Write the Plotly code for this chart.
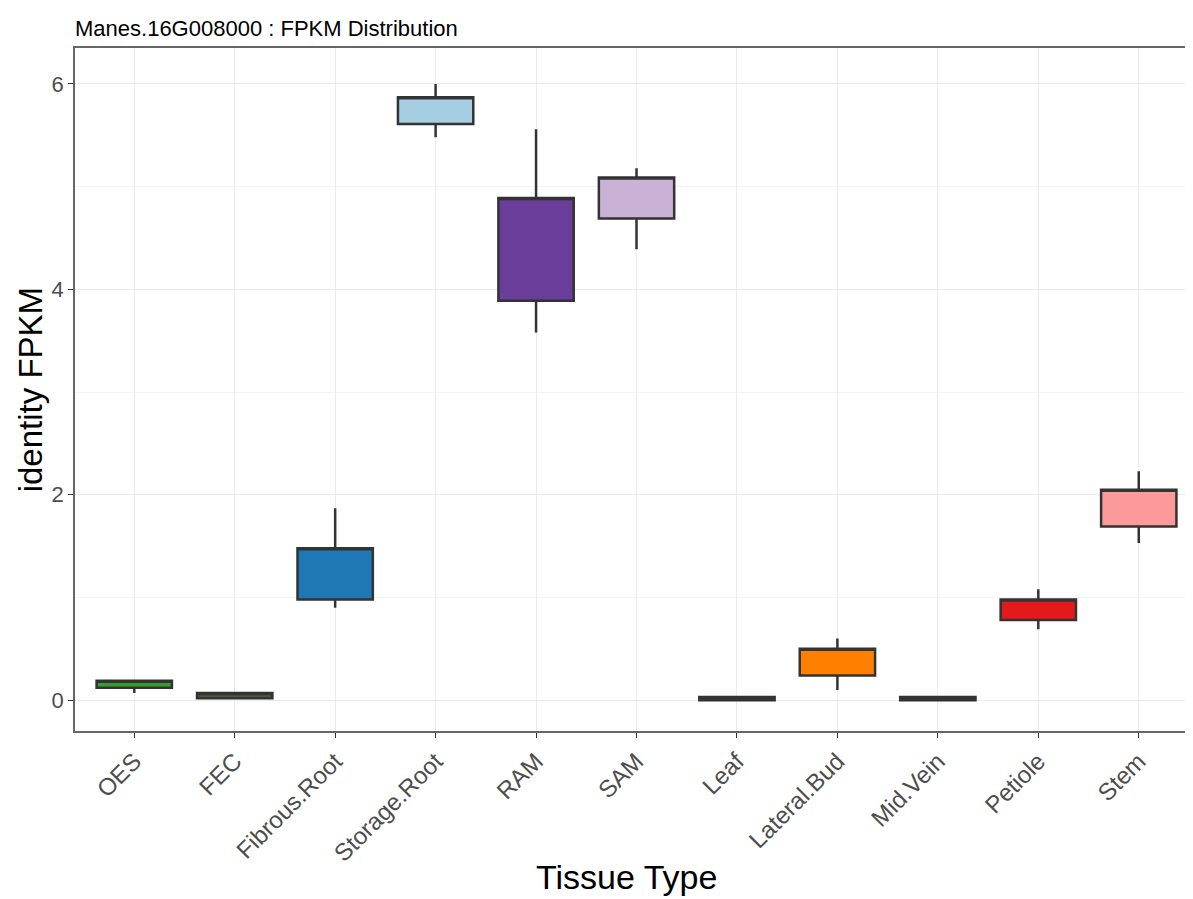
import plotly.graph_objects as go

tissues = ["OES", "FEC", "Fibrous.Root", "Storage.Root", "RAM", "SAM",
           "Leaf", "Lateral.Bud", "Mid.Vein", "Petiole", "Stem"]
lower = [0.07, 0.01, 0.90, 5.48, 3.58, 4.39, 0.00, 0.10, 0.00, 0.69, 1.53]
q1 =    [0.12, 0.02, 0.98, 5.61, 3.89, 4.69, 0.00, 0.24, 0.00, 0.78, 1.69]
median =[0.19, 0.07, 1.48, 5.87, 4.89, 5.09, 0.03, 0.50, 0.03, 0.98, 2.05]
q3 =    [0.19, 0.07, 1.48, 5.87, 4.89, 5.09, 0.03, 0.50, 0.03, 0.98, 2.05]
upper = [0.20, 0.08, 1.87, 6.00, 5.56, 5.18, 0.04, 0.60, 0.04, 1.08, 2.23]
colors = ["#33a02c", "#4d5a3f", "#1f78b4", "#a6cee3", "#6a3d9a", "#cab2d6",
          "#fdbf6f", "#ff7f00", "#b15928", "#e31a1c", "#fb9a99"]

W, H = 1185, 891  # page body has an 8px margin

fig = go.Figure()
for i, t in enumerate(tissues):
    fig.add_trace(go.Box(
        x=[t], q1=[q1[i]], median=[median[i]], q3=[q3[i]],
        lowerfence=[lower[i]], upperfence=[upper[i]],
        fillcolor=colors[i], line=dict(color="#333333", width=2.5),
        whiskerwidth=0, width=0.75, boxpoints=False, showlegend=False,
        hoverinfo="skip",
    ))

fig.update_layout(
    width=W, height=H,
    margin=dict(l=67, r=0, t=40, b=168, autoexpand=False),
    paper_bgcolor="white", plot_bgcolor="white",
    boxmode="overlay",
    font=dict(family="Liberation Sans, Arial, sans-serif", color="#4d4d4d"),
    title=dict(text="Manes.16G008000 : FPKM Distribution",
               x=67/W, xref="container", xanchor="left",
               y=1-20/H, yref="container", yanchor="middle",
               font=dict(size=22, color="black"), automargin=False),
    xaxis=dict(
        type="category", categoryorder="array", categoryarray=tissues,
        range=[-0.59, 10.54], automargin=False,
        showgrid=True, gridcolor="#ebebeb", gridwidth=1.2,
        tickangle=-45, tickfont=dict(size=24, color="#4d4d4d"),
        ticks="outside", ticklen=5, tickcolor="#333333",
        showline=True, linecolor="#666666", linewidth=1.5, mirror=True,
        zeroline=False,
    ),
    yaxis=dict(
        range=[-0.30, 6.35], automargin=False,
        tickvals=[0, 2, 4, 6], ticktext=["0", "2", "4", "6"],
        showgrid=True, gridcolor="#ebebeb", gridwidth=1.2,
        minor=dict(tickvals=[1, 3, 5], showgrid=True, gridcolor="#f4f4f4", gridwidth=1),
        tickfont=dict(size=22, color="#4d4d4d"),
        ticks="outside", ticklen=5, tickcolor="#333333",
        showline=True, linecolor="#666666", linewidth=1.5, mirror=True,
        zeroline=False,
    ),
    annotations=[
        dict(text="Tissue Type", xref="paper", yref="paper", x=0.493, y=-0.214,
             xanchor="center", yanchor="middle", showarrow=False,
             font=dict(size=34, color="black")),
        dict(text="identity FPKM", xref="paper", yref="paper", x=-0.0395, y=0.5,
             xanchor="center", yanchor="middle", showarrow=False, textangle=-90,
             font=dict(size=33, color="black")),
    ],
)

fig.write_html("out.html")
